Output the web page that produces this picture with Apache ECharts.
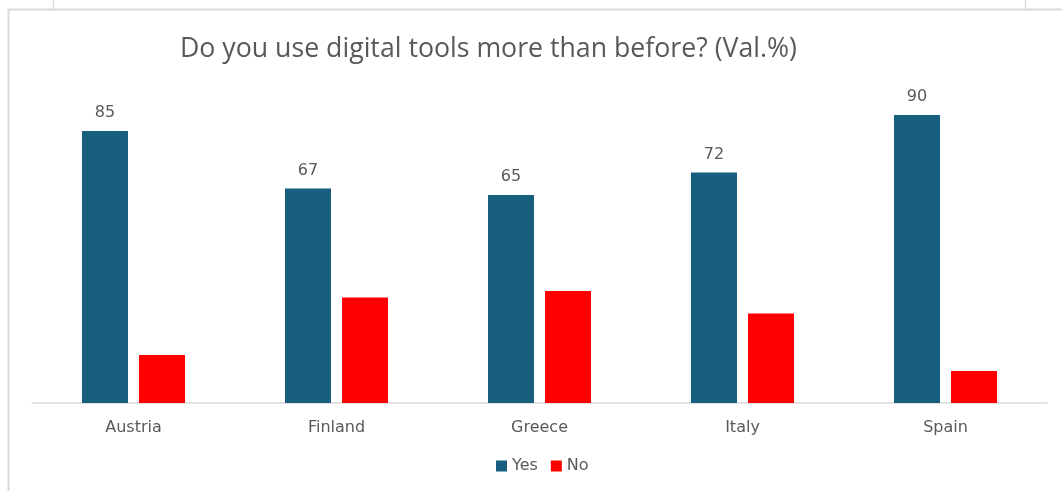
<!DOCTYPE html>
<html>
<head>
<meta charset="utf-8">
<style>
  html, body { margin: 0; padding: 0; background: #ffffff; }
  #chart { width: 1062px; height: 491px; }
</style>
<script src="https://cdn.jsdelivr.net/npm/echarts@6/dist/echarts.min.js"></script>
</head>
<body>
<div id="chart"></div>
<script>
// Survey answers per country, in percent
const countries = ['Austria', 'Finland', 'Greece', 'Italy', 'Spain'];
const yesValues = [85, 67, 65, 72, 90];
const noValues = [15, 33, 35, 28, 10];
const seriesNames = ['Yes', 'No'];
const titleText = 'Do you use digital tools more than before? (Val.%)';

const textGray = '#595959';
const frameGray = '#d9d9d9';
const labelFont = 'DejaVu Sans';

const chart = echarts.init(document.getElementById('chart'), null, { renderer: 'canvas' });

chart.setOption({
  backgroundColor: '#ffffff',
  animation: false,
  title: {
    text: titleText,
    left: 175,
    top: 31,
    textStyle: {
      color: textGray,
      fontFamily: 'Open Sans',
      fontSize: 26.7,
      fontWeight: 'normal'
    }
  },
  legend: {
    data: seriesNames,
    top: 453,
    left: 491,
    itemWidth: 11,
    itemHeight: 11,
    itemGap: 13,
    icon: 'rect',
    textStyle: { color: textGray, fontFamily: labelFont, fontSize: 16, padding: [0, 0, 0, 0] }
  },
  grid: { left: 32, right: 15, top: 83, bottom: 88, containLabel: false },
  xAxis: {
    type: 'category',
    data: countries,
    axisLine: { lineStyle: { color: frameGray, width: 1.5 } },
    axisTick: { show: false },
    axisLabel: {
      color: textGray,
      fontFamily: labelFont,
      fontSize: 16,
      margin: 17
    }
  },
  yAxis: {
    type: 'value',
    min: 0,
    max: 100,
    show: false,
    splitLine: { show: false }
  },
  series: [
    {
      name: seriesNames[0],
      type: 'bar',
      data: yesValues,
      barWidth: 46,
      barGap: '24%',
      itemStyle: { color: '#175e7f' },
      label: {
        show: true,
        position: 'top',
        distance: 10,
        color: textGray,
        fontFamily: labelFont,
        fontSize: 16
      }
    },
    {
      name: seriesNames[1],
      type: 'bar',
      data: noValues,
      barWidth: 46,
      itemStyle: { color: '#ff0000' }
    }
  ],
  graphic: [
    // surrounding frame lines
    { type: 'line', silent: true, shape: { x1: 8, y1: 9.5, x2: 1062, y2: 9.5 }, style: { stroke: frameGray, lineWidth: 2 } },
    { type: 'line', silent: true, shape: { x1: 8.5, y1: 9, x2: 8.5, y2: 491 }, style: { stroke: frameGray, lineWidth: 2 } },
    { type: 'line', silent: true, shape: { x1: 53.5, y1: 0, x2: 53.5, y2: 9 }, style: { stroke: frameGray, lineWidth: 1.5 } },
    { type: 'line', silent: true, shape: { x1: 1025.5, y1: 0, x2: 1025.5, y2: 9 }, style: { stroke: frameGray, lineWidth: 1.5 } }
  ]
});
</script>
</body>
</html>
